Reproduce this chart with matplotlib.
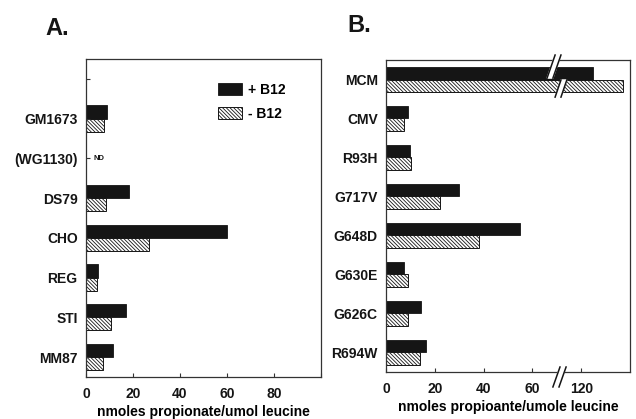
import numpy as np
import matplotlib
matplotlib.use("Agg")
import matplotlib.pyplot as plt

# 字体
plt.rcParams['font.family'] = ['Liberation Sans', 'DejaVu Sans']
plt.rcParams['font.weight'] = 'bold'
plt.rcParams['axes.labelweight'] = 'bold'
plt.rcParams['hatch.linewidth'] = 0.6

# 数据 A
cells_a = ['GM1673', '(WG1130)', 'DS79', 'CHO', 'REG', 'STI', 'MM87']
plus_a = [9, np.nan, 18.3, 60, 5, 17, 11.5]
minus_a = [7.6, np.nan, 8.5, 27, 4.5, 10.5, 7.3]

# 数据 B
cells_b = ['MCM', 'CMV', 'R93H', 'G717V', 'G648D', 'G630E', 'G626C', 'R694W']
plus_b = [125, 9, 9.7, 30, 55, 7.5, 14.2, 16.5]
minus_b = [137, 7.5, 10.4, 22, 38, 9.2, 9, 13.9]
ticks_b = [0, 20, 40, 60, 120]

# 断轴参数
LO, HI, GAP = 68.0, 114.0, 6.0

def fwd(v):
    v = np.asarray(v, dtype=float)
    return np.where(v <= LO, v,
                    np.where(v >= HI, v - (HI - LO) + GAP,
                             LO + (v - LO) * GAP / (HI - LO)))

def inv(d):
    d = np.asarray(d, dtype=float)
    return np.where(d <= LO, d,
                    np.where(d >= LO + GAP, d + (HI - LO) - GAP,
                             LO + (d - LO) * (HI - LO) / GAP))

H = 0.33
HATCH = '\\' * 9
INK = '#151515'

fig = plt.figure(figsize=(6.36, 4.19), dpi=100)
ax_a = fig.add_axes([0.1352, 0.1003, 0.3695, 0.7589])
ax_b = fig.add_axes([0.6069, 0.1122, 0.3837, 0.7446])

def draw(ax, ys, plus, minus):
    ax.barh(ys - H / 2, plus, height=H, color=INK, edgecolor=INK, lw=0.6, label='+ B12')
    ax.barh(ys + H / 2, minus, height=H, color='white', edgecolor=INK, lw=0.7,
            hatch=HATCH, label='- B12')

# 面板 A
ya = np.arange(len(cells_a)) + 1
draw(ax_a, ya, plus_a, minus_a)
for y, p in zip(ya, plus_a):
    if np.isnan(p):
        ax_a.text(3, y, 'ND', fontsize=5.5, va='center', ha='left', color=INK)
ax_a.set_yticks(np.arange(len(cells_a) + 1))
ax_a.set_yticklabels([''] + cells_a)
ax_a.set_ylim(7.5, -0.5)
ax_a.set_xlim(0, 100)
ax_a.set_xticks([0, 20, 40, 60, 80, 100])
ax_a.set_xticklabels(['0', '20', '40', '60', '80', ''])
ax_a.set_xlabel('nmoles propionate/umol leucine', fontsize=10, labelpad=3)
leg = ax_a.legend(loc='upper right', bbox_to_anchor=(0.902, 0.965), frameon=False, fontsize=10,
                  handlelength=1.75, handleheight=1.0, handletextpad=0.4, labelspacing=0.75)

# 面板 B
yb = np.arange(len(cells_b))
draw(ax_b, yb, plus_b, minus_b)
ax_b.set_xscale('function', functions=(fwd, inv))
ax_b.set_xlim(0, 140)
ax_b.set_xticks(ticks_b)
ax_b.set_xticklabels([str(t) for t in ticks_b])
ax_b.set_yticks(yb)
ax_b.set_yticklabels(cells_b)
ax_b.set_ylim(7.5, -0.5)
ax_b.set_xlabel('nmoles propioante/umole leucine', fontsize=10, labelpad=3)

for ax in (ax_a, ax_b):
    ax.tick_params(direction='in', length=3, width=0.8, colors='#333333',
                   labelcolor=INK, labelsize=10)
    ax.tick_params(axis='y', pad=6)
    ax.tick_params(axis='x', pad=7)
    for s in ax.spines.values():
        s.set_linewidth(0.9)
        s.set_color('#333333')

# 断轴记号
def brk(ax, x0, x1, dx, y0, y1):
    ax.fill([x0, x1, x1 + dx, x0 + dx], [y0, y1, y1, y0], color='white',
            transform=ax.transAxes, clip_on=False, zorder=5)
    ax.plot([x0, x1], [y0, y1], color=INK, lw=1.1, transform=ax.transAxes,
            clip_on=False, zorder=6)
    ax.plot([x0 + dx, x1 + dx], [y0, y1], color=INK, lw=1.1, transform=ax.transAxes,
            clip_on=False, zorder=6)

brk(ax_b, 0.660, 0.693, 0.024, 0.942, 1.016)
brk(ax_b, 0.693, 0.717, 0.024, 0.881, 0.936)
brk(ax_b, 0.684, 0.713, 0.025, -0.048, 0.016)

# 面板标签
fig.text(0.071, 0.916, 'A.', fontsize=17, color=INK)
fig.text(0.546, 0.924, 'B.', fontsize=17, color=INK)

fig.savefig('out.png', dpi=100, facecolor='white')
